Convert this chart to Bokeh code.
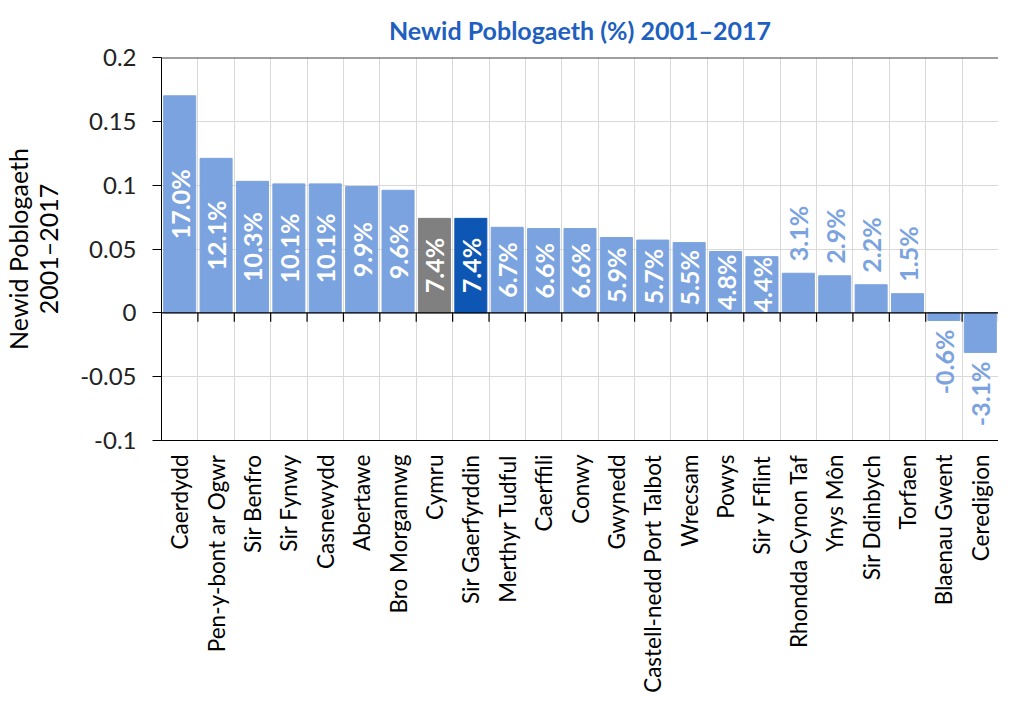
import math
from bokeh.plotting import figure
from bokeh.models import (ColumnDataSource, Range1d, FixedTicker,
                          CustomJSTickFormatter, Span)
from bokeh.embed import file_html
from bokeh.resources import INLINE
from bokeh.core.properties import value

# ---------------- data ----------------
areas = ["Caerdydd", "Pen-y-bont ar Ogwr", "Sir Benfro", "Sir Fynwy", "Casnewydd",
         "Abertawe", "Bro Morgannwg", "Cymru", "Sir Gaerfyrddin", "Merthyr Tudful",
         "Caerffili", "Conwy", "Gwynedd", "Castell-nedd Port Talbot", "Wrecsam",
         "Powys", "Sir y Fflint", "Rhondda Cynon Taf", "Ynys Môn", "Sir Ddinbych",
         "Torfaen", "Blaenau Gwent", "Ceredigion"]
change = [0.170, 0.121, 0.103, 0.101, 0.101, 0.099, 0.096, 0.074, 0.074, 0.067,
          0.066, 0.066, 0.059, 0.057, 0.055, 0.048, 0.044, 0.031, 0.029, 0.022,
          0.015, -0.006, -0.031]
y_ticks = [-0.1, -0.05, 0, 0.05, 0.1, 0.15, 0.2]

BASE = "#7BA3E0"
SPECIAL = {"Cymru": "#808080", "Sir Gaerfyrddin": "#0E56B4"}
INSIDE_MIN = 0.04  # values at/above this get their label inside the bar
FONT = "Lato"

idx = list(range(len(areas)))
colors = [SPECIAL.get(a, BASE) for a in areas]
labels = ["%.1f%%" % (v * 100) for v in change]

src = ColumnDataSource(dict(x=idx, top=change, color=colors, name=areas))

ins = [i for i in idx if change[i] >= INSIDE_MIN]
pos_out = [i for i in idx if 0 <= change[i] < INSIDE_MIN]
neg_out = [i for i in idx if change[i] < 0]

src_in = ColumnDataSource(dict(x=ins, y=[change[i] / 2 for i in ins], t=[labels[i] for i in ins]))
src_pos = ColumnDataSource(dict(x=pos_out, y=[change[i] for i in pos_out], t=[labels[i] for i in pos_out]))
src_neg = ColumnDataSource(dict(x=neg_out, y=[change[i] for i in neg_out], t=[labels[i] for i in neg_out]))

# ---------------- figure ----------------
p = figure(width=998, height=695, output_backend="svg", toolbar_location=None,
           x_range=Range1d(-0.5, len(areas) - 0.5), y_range=Range1d(min(y_ticks), max(y_ticks)),
           min_border_left=147, min_border_right=0, min_border_top=49,
           min_border_bottom=0)
p.outline_line_color = None
p.background_fill_color = "white"
p.border_fill_color = "white"

p.title.text = "Newid Poblogaeth (%) 2001\u20132017"
p.title.align = "center"
p.title.text_font = FONT
p.title.text_font_style = "bold"
p.title.text_font_size = "25px"
p.title.text_color = "#1F5FBF"
p.title.standoff = 25

# grids
p.ygrid.ticker = FixedTicker(ticks=y_ticks)
p.ygrid.grid_line_color = "#D9D9D9"
p.xgrid.ticker = FixedTicker(ticks=[i + 0.5 for i in idx[:-1]])
p.xgrid.grid_line_color = "#D9D9D9"

# y axis
ya = p.yaxis[0]
ya.ticker = FixedTicker(ticks=y_ticks)
ya.formatter = CustomJSTickFormatter(code="return String(Math.round(tick*100)/100);")
ya.axis_label = "Newid Poblogaeth\n2001\u20132017"
ya.axis_label_text_font = FONT
ya.axis_label_text_font_style = "normal"
ya.axis_label_text_font_size = "25px"
ya.axis_label_text_line_height = 1.0
ya.axis_label_text_color = "black"
ya.axis_label_standoff = 14
ya.major_label_text_font = FONT
ya.major_label_text_font_size = "24px"
ya.major_label_text_color = "#222222"
ya.major_label_standoff = 16
ya.major_tick_out = 9
ya.major_tick_in = 0
ya.minor_tick_out = 0
ya.minor_tick_in = 0
ya.axis_line_color = "black"
ya.major_tick_line_color = "black"

# x axis (category names)
xa = p.xaxis[0]
xa.ticker = FixedTicker(ticks=idx)
xa.formatter = CustomJSTickFormatter(args=dict(names=areas),
                                     code="const i = Math.round(tick); return (i >= 0 && i < names.length) ? names[i] : '';")
xa.major_label_orientation = math.pi / 2
xa.major_label_text_font = FONT
xa.major_label_text_font_size = "22.5px"
xa.major_label_text_color = "black"
xa.major_label_standoff = 14
xa.major_tick_out = 0
xa.major_tick_in = 0
xa.minor_tick_out = 0
xa.minor_tick_in = 0
xa.axis_line_color = "black"

# bars
p.vbar(x="x", top="top", bottom=0, width=0.88, color="color", source=src)

# zero line with downward ticks at category boundaries
p.add_layout(Span(location=0, dimension="width", line_color="black", line_width=1.2))
tick_len = (max(y_ticks) - min(y_ticks)) * 9 / 382
bounds = [i + 0.5 for i in idx]
p.segment(x0=bounds, y0=[0] * len(bounds), x1=bounds, y1=[-tick_len] * len(bounds),
          line_color="black", line_width=1.2)
# top border line
p.add_layout(Span(location=max(y_ticks), dimension="width", line_color="#404040", line_width=2))

# data labels
LBL = "25px"
p.text(x="x", y="y", text="t", source=src_in, angle=math.pi / 2,
       text_align="center", text_baseline="middle", text_color="white",
       text_font=value(FONT), text_font_style="bold", text_font_size=LBL)
p.text(x="x", y="y", text="t", source=src_pos, angle=math.pi / 2, y_offset=-12,
       text_align="left", text_baseline="middle", text_color=BASE,
       text_font=value(FONT), text_font_style="bold", text_font_size=LBL)
p.text(x="x", y="y", text="t", source=src_neg, angle=math.pi / 2, y_offset=9,
       text_align="right", text_baseline="middle", text_color=BASE,
       text_font=value(FONT), text_font_style="bold", text_font_size=LBL)

open("out.html", "w").write(file_html(p, INLINE))
